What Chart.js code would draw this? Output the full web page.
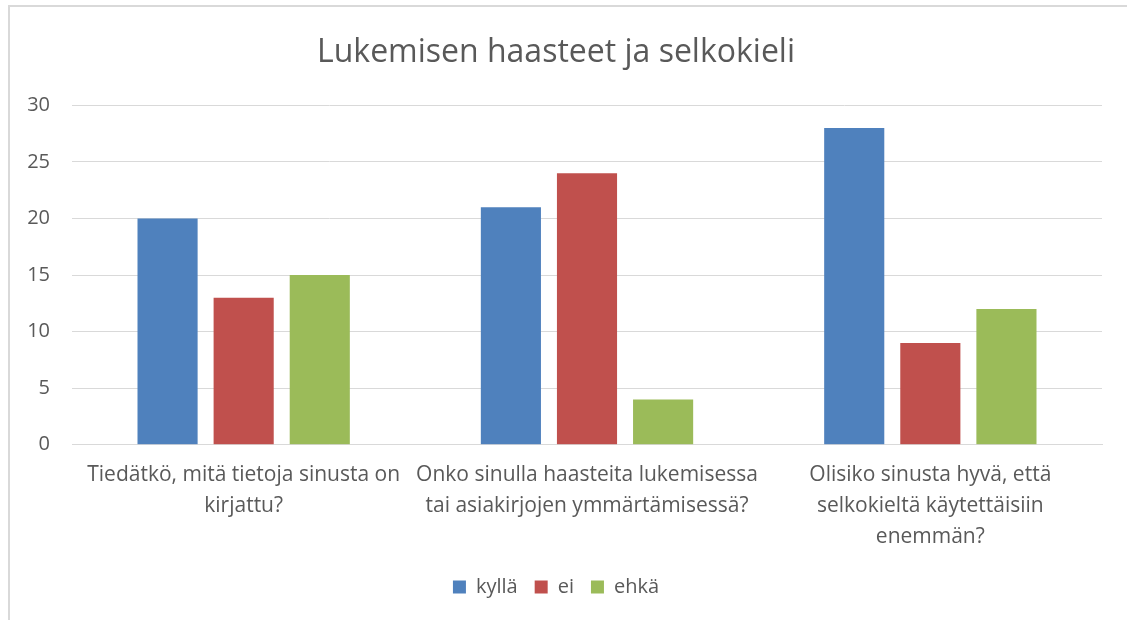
<!DOCTYPE html>
<html>
<head>
<meta charset="utf-8">
<script src="https://cdn.jsdelivr.net/npm/chart.js@4"></script>
<style>
  body { margin: 0; background: #fff; }
  #kehys {
    position: absolute; left: 8px; top: 5px;
    width: 1119px; height: 615px;
    border-top: 2px solid #d9d9d9; border-left: 2px solid #d9d9d9;
    box-sizing: border-box;
  }
</style>
</head>
<body>
<div id="kehys"><canvas id="kaavio"></canvas></div>
<script>
// Kysymykset (luokat)
const kysymykset = [
    ['Tiedätkö, mitä tietoja sinusta on', 'kirjattu?'],
    ['Onko sinulla haasteita lukemisessa', 'tai asiakirjojen ymmärtämisessä?'],
    ['Olisiko sinusta hyvä, että', 'selkokieltä käytettäisiin', 'enemmän?']
];

// Vastausten määrät
const kylla = [20, 21, 28];
const ei = [13, 24, 9];
const ehka = [15, 4, 12];

const harmaa = '#595959';
const fontti = '"Open Sans", "Liberation Sans", sans-serif';

new Chart(document.getElementById('kaavio'), {
    type: 'bar',
    data: {
        labels: kysymykset,
        datasets: [
            { label: 'kyllä', data: kylla, backgroundColor: '#4f81bd' },
            { label: 'ei', data: ei, backgroundColor: '#c0504d' },
            { label: 'ehkä', data: ehka, backgroundColor: '#9bbb59' }
        ]
    },
    options: {
        responsive: true,
        maintainAspectRatio: false,
        animation: false,
        categoryPercentage: 0.665,
        barPercentage: 0.79,
        layout: { padding: { left: 0, right: 25, top: 10, bottom: 13 } },
        plugins: {
            title: {
                display: true,
                text: 'Lukemisen haasteet ja selkokieli',
                color: harmaa,
                font: { family: fontti, size: 32, weight: 'normal' },
                padding: { top: 17, bottom: 33 }
            },
            legend: {
                position: 'bottom',
                labels: {
                    color: harmaa,
                    font: { family: fontti, size: 20 },
                    boxWidth: 13,
                    boxHeight: 13,
                    padding: 17
                }
            },
            tooltip: { enabled: false }
        },
        scales: {
            x: {
                grid: { display: false },
                border: { color: '#d9d9d9', width: 1 },
                ticks: {
                    autoSkip: false,
                    color: harmaa,
                    font: { family: fontti, size: 21, lineHeight: 1.48 },
                    maxRotation: 0,
                    padding: 7
                }
            },
            y: {
                min: 0,
                max: 30,
                beginAtZero: true,
                grid: { color: '#d9d9d9', drawTicks: false },
                border: { display: false },
                afterFit: function (scale) { scale.width = 62; },
                ticks: {
                    stepSize: 5,
                    color: harmaa,
                    font: { family: fontti, size: 20 },
                    padding: 22
                }
            }
        }
    }
});
</script>
</body>
</html>
